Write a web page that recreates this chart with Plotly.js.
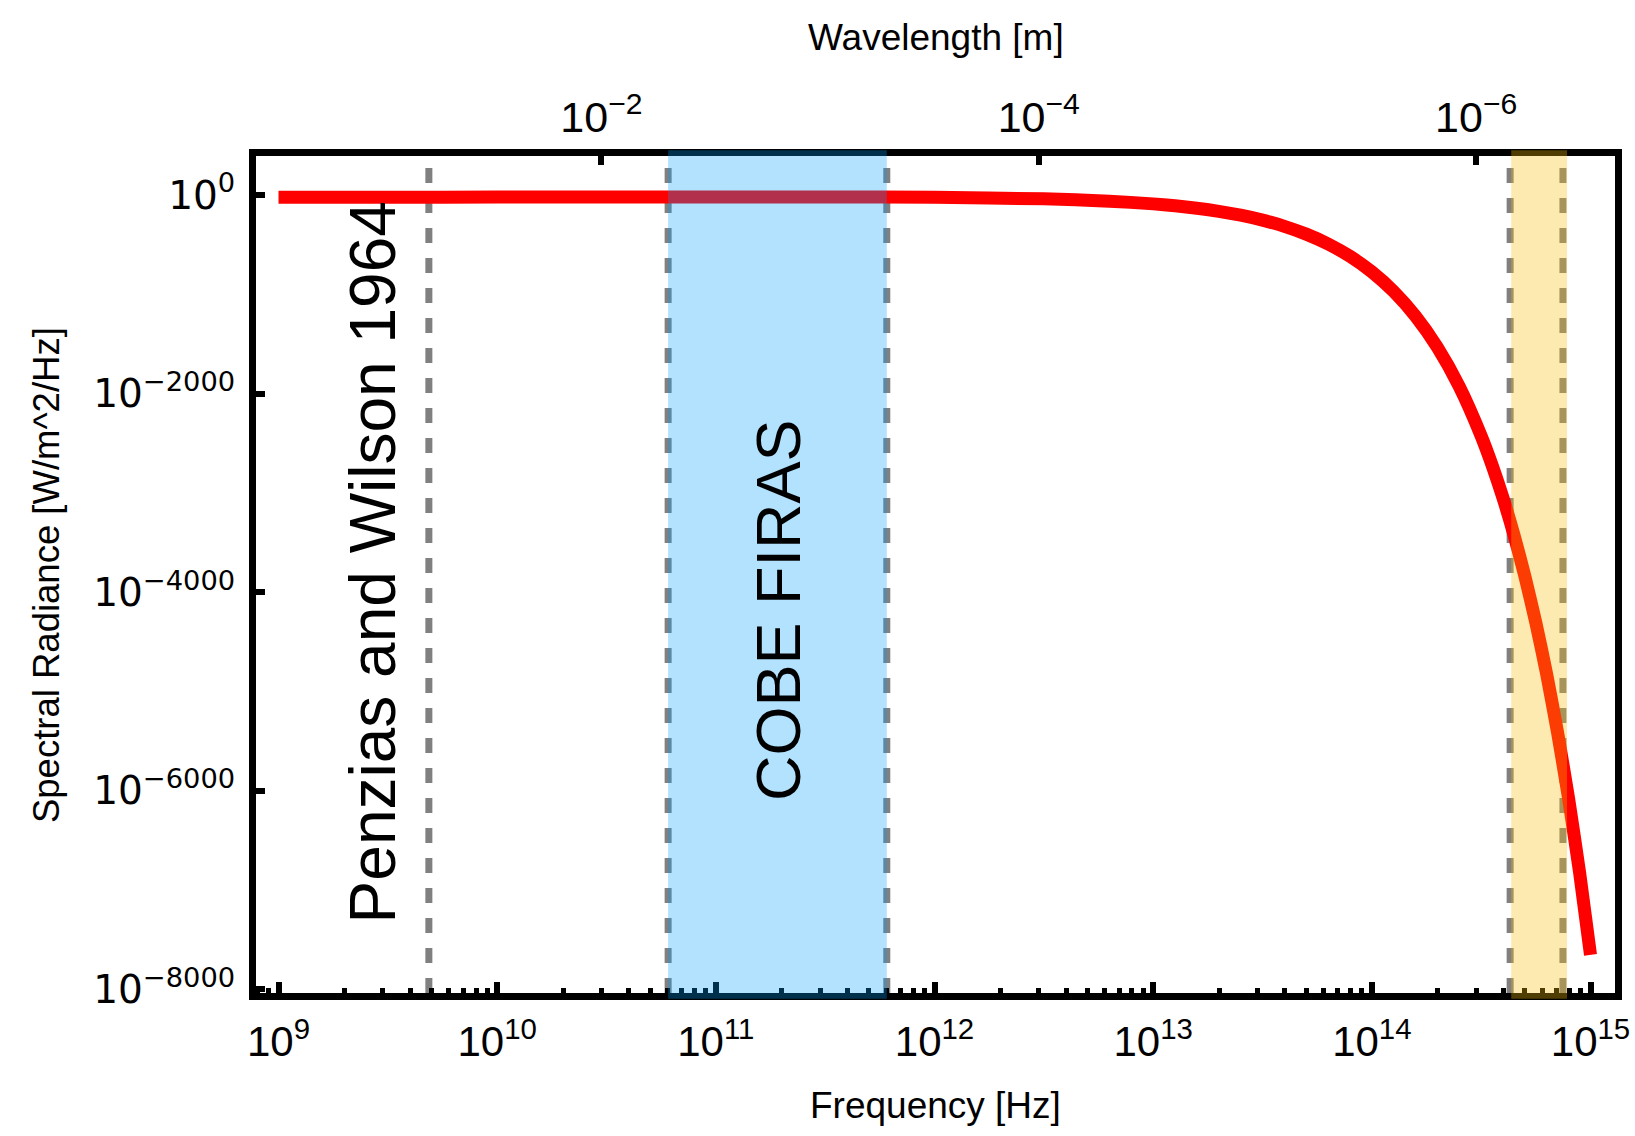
<!DOCTYPE html>
<html>
<head>
<meta charset="utf-8">
<script src="https://cdn.plot.ly/plotly-3.0.1.min.js"></script>
<style>html,body{margin:0;padding:0;background:#fff;}#chart{width:1635px;height:1136px;}</style>
</head>
<body>
<div id="chart"></div>
<script>
// Spectral radiance of the CMB: frequency in Hz, log10 of radiance
const freqHz = [1e9, 3.162e9, 1e10, 3.162e10, 1e11, 3.162e11, 1e12, 3.162e12, 6.31e12,
  1e13, 1.259e13, 1.585e13, 1.995e13, 2.512e13, 3.162e13, 3.981e13, 5.012e13, 6.31e13, 7.943e13,
  1e14, 1.259e14, 1.585e14, 1.995e14, 2.512e14, 3.162e14,
  3.548e14, 3.981e14, 4.467e14, 5.012e14, 5.623e14, 6.31e14, 7.079e14, 7.943e14, 8.913e14, 1e15];
const log10Radiance = [-21.1, -20.1, -19.1, -18.2, -17.5, -17.8, -21.5, -36.5, -59.7,
  -87.3, -106.8, -131.5, -162.5, -201.8, -251.2, -313.5, -392.1, -491.1, -615.7,
  -772.7, -970.4, -1219.5, -1533.1, -1927.9, -2425.1,
  -2720.1, -3051.0, -3422.5, -3839.2, -4306.8, -4831.5, -5420.2, -6080.8, -6822.0, -7653.6];

// Shaded bands (Hz)
const bandNames = ["COBE FIRAS", "Visible"];
const bandStartHz = [6.05e10, 4.34e14];
const bandEndHz = [6.05e11, 7.81e14];
const bandColors = ["rgba(0,160,250,0.30)", "rgba(245,190,10,0.32)"];

// Dashed marker lines (Hz)
const markerLinesHz = [4.87e9, 6.05e10, 6.05e11, 4.29e14, 7.48e14];

// Rotated labels
const labelTexts = ["Penzias and Wilson 1964", "COBE FIRAS"];
const labelFreqHz = [2.73e9, 1.92e11];
const labelLog10 = [-3700, -4180];

// Tick labels
const freqTickVals = [1e9, 1e10, 1e11, 1e12, 1e13, 1e14, 1e15];
const freqTickText = ["10<sup>9</sup>", "10<sup>10</sup>", "10<sup>11</sup>", "10<sup>12</sup>", "10<sup>13</sup>", "10<sup>14</sup>", "10<sup>15</sup>"];
const wavelengthTickM = [1e-2, 1e-4, 1e-6];
const wavelengthTickText = ["10<sup>−2</sup>", "10<sup>−4</sup>", "10<sup>−6</sup>"];
const radianceTickVals = [0, -2000, -4000, -6000, -8000];
const radianceTickText = ["10<sup>0</sup>", "10<sup>−2000</sup>", "10<sup>−4000</sup>", "10<sup>−6000</sup>", "10<sup>−8000</sup>"];

const c = 2.998e8;
const topTickVals = wavelengthTickM.map(l => c / l);

// minor ticks for the log frequency axis
const minorVals = [];
for (let d = 8; d <= 15; d++) {
  for (let m = 2; m <= 9; m++) {
    const v = m * Math.pow(10, d);
    if (v >= 7.9e8 && v <= 1.3e15) minorVals.push(v);
  }
}

const xRange = [8.897, 15.112];

const traces = [
  {
    x: freqHz, y: log10Radiance, type: "scatter", mode: "lines",
    line: {color: "#ff0000", width: 13, shape: "spline", smoothing: 0.6},
    hoverinfo: "x+y", showlegend: false
  },
  {
    x: freqHz, y: log10Radiance, xaxis: "x2", type: "scatter", mode: "lines",
    line: {color: "rgba(0,0,0,0)", width: 0}, opacity: 0, hoverinfo: "skip", showlegend: false
  }
];

const shapes = [];
markerLinesHz.forEach(f => shapes.push({
  type: "line", xref: "x", yref: "paper", x0: f, x1: f, y0: 0, y1: 1, layer: "below",
  line: {color: "#808080", width: 7, dash: "15px,15px"}
}));
bandStartHz.forEach((f, i) => shapes.push({
  type: "rect", xref: "x", yref: "paper", x0: f, x1: bandEndHz[i], y0: -0.007, y1: 1.007,
  layer: "above", fillcolor: bandColors[i], line: {width: 0}
}));

const annotations = [];
labelTexts.forEach((t, i) => annotations.push({
  text: t, x: Math.log10(labelFreqHz[i]), y: labelLog10[i], xref: "x", yref: "y",
  textangle: -90, showarrow: false, xanchor: "center", yanchor: "middle",
  font: {family: "Liberation Sans, Arial, sans-serif", size: i === 0 ? 64 : 63, color: "#000"}
}));
annotations.push({
  text: "Frequency [Hz]", xref: "paper", yref: "paper", x: 0.5, y: -0.135,
  xanchor: "center", yanchor: "middle", showarrow: false,
  font: {family: "Liberation Sans, Arial, sans-serif", size: 37, color: "#000"}
});
annotations.push({
  text: "Wavelength [m]", xref: "paper", yref: "paper", x: 0.5, y: 1.141,
  xanchor: "center", yanchor: "middle", showarrow: false,
  font: {family: "Liberation Sans, Arial, sans-serif", size: 37, color: "#000"}
});
annotations.push({
  text: "Spectral Radiance [W/m^2/Hz]", xref: "paper", yref: "paper", x: -0.1545, y: 0.4994,
  xanchor: "center", yanchor: "middle", showarrow: false, textangle: -90,
  font: {family: "Liberation Sans, Arial, sans-serif", size: 36.5, color: "#000"}
});

const layout = {
  width: 1635, height: 1136,
  margin: {l: 255.5, r: 19.5, t: 155.5, b: 142.5, pad: 0},
  paper_bgcolor: "#fff", plot_bgcolor: "#fff",
  showlegend: false,
  xaxis: {
    type: "log", range: xRange, showline: true, linewidth: 7, linecolor: "#000", mirror: false,
    showgrid: false, zeroline: false,
    ticks: "inside", ticklen: 11, tickwidth: 6, tickcolor: "#000",
    tickmode: "array", tickvals: freqTickVals, ticktext: freqTickText,
    tickfont: {family: "Liberation Sans, Arial, sans-serif", size: 42, color: "#000"},
    ticklabelstandoff: 6,
    minor: {tickmode: "array", tickvals: minorVals, ticks: "inside", ticklen: 5, tickwidth: 5, tickcolor: "#000", showgrid: false}
  },
  xaxis2: {
    type: "log", range: xRange, overlaying: "x", side: "top", anchor: "y",
    showline: true, linewidth: 7, linecolor: "#000", showgrid: false, zeroline: false,
    ticks: "inside", ticklen: 9, tickwidth: 6, tickcolor: "#000",
    tickmode: "array", tickvals: topTickVals, ticktext: wavelengthTickText,
    tickfont: {family: "Liberation Sans, Arial, sans-serif", size: 43, color: "#000"},
    ticklabelstandoff: 0
  },
  yaxis: {
    range: [-8037, 395], showline: true, linewidth: 7, linecolor: "#000", mirror: true,
    showgrid: false, zeroline: false,
    ticks: "inside", ticklen: 9, tickwidth: 6, tickcolor: "#000",
    tickmode: "array", tickvals: radianceTickVals, ticktext: radianceTickText,
    tickfont: {family: "DejaVu Sans, sans-serif", size: 39, color: "#000"},
    ticklabelstandoff: 6
  },
  shapes: shapes,
  annotations: annotations
};

Plotly.newPlot("chart", traces, layout, {displayModeBar: false, staticPlot: true});
</script>
</body>
</html>
